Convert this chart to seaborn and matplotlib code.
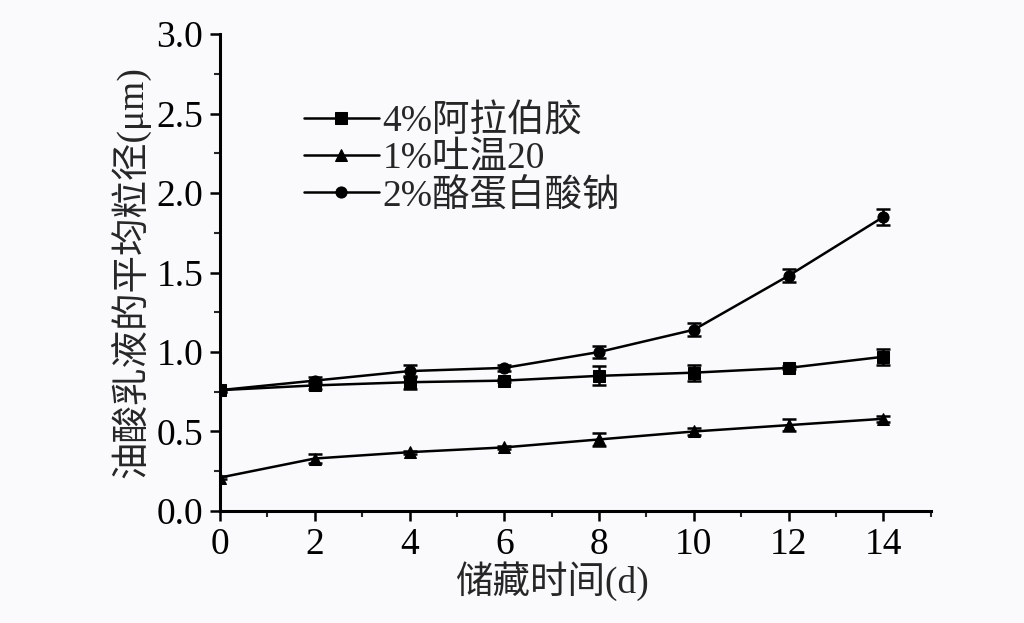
import numpy as np
import pandas as pd
import seaborn as sns
import matplotlib
matplotlib.use("Agg")
import matplotlib.pyplot as plt
from matplotlib.ticker import MultipleLocator

days = [0, 2, 4, 6, 8, 10, 12, 14]
series_names = ["4%阿拉伯胶", "1%吐温20", "2%酪蛋白酸钠"]
gum_arabic = [0.76, 0.79, 0.81, 0.82, 0.85, 0.87, 0.90, 0.97]
gum_arabic_err = [0.01, 0.02, 0.04, 0.01, 0.06, 0.05, 0.01, 0.05]
tween20 = [0.21, 0.33, 0.37, 0.40, 0.45, 0.50, 0.54, 0.58]
tween20_err = [0.01, 0.03, 0.01, 0.01, 0.04, 0.02, 0.04, 0.02]
caseinate = [0.76, 0.82, 0.88, 0.90, 1.00, 1.14, 1.48, 1.85]
caseinate_err = [0.01, 0.02, 0.04, 0.02, 0.04, 0.04, 0.04, 0.05]
xlabel = "储藏时间(d)"
ylabel = "油酸乳液的平均粒径(μm)"

values = [gum_arabic, tween20, caseinate]
errors = [gum_arabic_err, tween20_err, caseinate_err]
df = pd.DataFrame({
    "day": days * 3,
    "size": gum_arabic + tween20 + caseinate,
    "series": sum([[n] * len(days) for n in series_names], []),
})

sns.set_style("ticks")
fonts = ["Liberation Serif", "Noto Sans CJK SC", "DejaVu Sans"]
plt.rcParams["font.family"] = fonts
plt.rcParams["axes.unicode_minus"] = False

bg = "#fafafd"
fig = plt.figure(figsize=(10.24, 6.23), dpi=100, facecolor=bg)
ax = fig.add_axes([0.2148, 0.1798, 0.909 - 0.2148, 0.9454 - 0.1798])
ax.set_facecolor(bg)

markers = {series_names[0]: "s", series_names[1]: "^", series_names[2]: "o"}
palette = {n: "black" for n in series_names}
sns.lineplot(data=df, x="day", y="size", hue="series", style="series",
             hue_order=series_names, style_order=series_names,
             markers=markers, dashes=False, palette=palette,
             markersize=8, linewidth=1.8, markeredgecolor="black", ax=ax)

for v, e in zip(values, errors):
    ax.errorbar(days, v, yerr=e, fmt="none", ecolor="black",
                elinewidth=1.8, capsize=5, capthick=1.8)

ax.set_xlim(0, 15)
ax.set_ylim(0, 3.0)
ax.xaxis.set_major_locator(MultipleLocator(2))
ax.xaxis.set_minor_locator(MultipleLocator(1))
ax.yaxis.set_major_locator(MultipleLocator(0.5))
ax.yaxis.set_minor_locator(MultipleLocator(0.25))
ax.yaxis.set_major_formatter(matplotlib.ticker.FormatStrFormatter("%.1f"))
ax.set_xticks([0, 2, 4, 6, 8, 10, 12, 14])
ax.tick_params(which="major", length=7, width=1.8, labelsize=27, colors="black", pad=5)
ax.tick_params(which="minor", length=4, width=1.5)
for s in ["top", "right"]:
    ax.spines[s].set_visible(False)
for s in ["left", "bottom"]:
    ax.spines[s].set_linewidth(2.2)
    ax.spines[s].set_color("black")

ax.set_xlabel(xlabel, fontsize=27, family=fonts)
ax.xaxis.set_label_coords(7 / 15, -0.105)
ax.xaxis.label.set_verticalalignment("top")
ax.set_ylabel(ylabel, fontsize=27, labelpad=4, family=fonts)

leg = ax.legend(loc="upper left", bbox_to_anchor=(0.097, 0.885), frameon=False,
                fontsize=27, handlelength=2.0, handletextpad=0.1,
                labelspacing=0.06, borderaxespad=0)
for t in leg.get_texts():
    t.set_family(fonts)
for h in leg.legend_handles:
    h.set_markersize(8)

fig.savefig("out.png", dpi=100, facecolor=bg)
